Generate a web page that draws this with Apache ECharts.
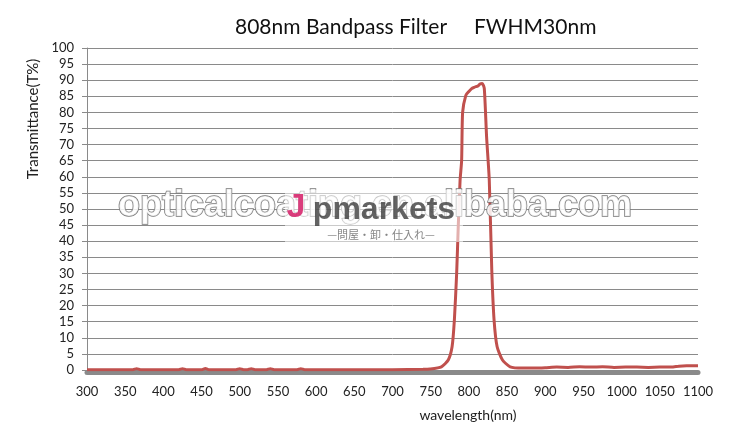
<!DOCTYPE html>
<html>
<head>
<meta charset="utf-8">
<script src="https://cdn.jsdelivr.net/npm/echarts@6/dist/echarts.min.js"></script>
<style>
html,body{margin:0;padding:0;background:#fff;}
#chart{width:750px;height:430px;}
</style>
</head>
<body>
<div id="chart"></div>
<script>
// ---- data ----
const titleText = '808nm Bandpass Filter     FWHM30nm';
const xAxisName = 'wavelength(nm)';
const yAxisName = 'Transmittance(T%)';
const xTicks = [300, 350, 400, 450, 500, 550, 600, 650, 700, 750, 800, 850, 900, 950, 1000, 1050, 1100];
const yTicks = [0, 5, 10, 15, 20, 25, 30, 35, 40, 45, 50, 55, 60, 65, 70, 75, 80, 85, 90, 95, 100];

const wavelength = [
  300, 320, 340, 360, 365, 370, 400, 420, 425, 430, 450, 455, 460, 495, 500, 505,
  510, 515, 520, 535, 540, 545, 575, 580, 585, 600, 650, 700, 740, 749,
  764, 773, 778, 781, 784, 786, 788.5, 790.5, 791.8, 796, 800, 803.6, 807, 809.3,
  812, 814.5, 817.5, 820.2, 823.2, 826.7, 830, 833, 837, 844, 854, 870,
  885, 900, 915, 930, 945, 960, 975, 990, 1005, 1020, 1035, 1050, 1065, 1075, 1085, 1100
];
const transmittance = [
  0.1, 0.1, 0.1, 0.1, 0.4, 0.1, 0.1, 0.1, 0.4, 0.1, 0.1, 0.5, 0.1, 0.1, 0.4, 0.1,
  0.1, 0.4, 0.1, 0.1, 0.4, 0.1, 0.1, 0.4, 0.1, 0.1, 0.1, 0.1, 0.2, 0.3,
  1.0, 3.1, 7.2, 15.5, 30, 44, 59, 65, 80, 85.3, 86.5, 87.4, 87.8, 88,
  88.2, 88.8, 89, 87.4, 72.4, 59, 31, 15.5, 7.2, 3.1, 1.0, 0.6,
  0.6, 0.7, 0.9, 0.8, 1.0, 0.9, 1.0, 0.8, 0.9, 0.9, 0.8, 0.9, 0.9, 1.2, 1.3, 1.3
];

// watermark texts
const wmAlibaba = 'opticalcoating.en.alibaba.com';
const wmJ = 'J';
const wmMarkets = 'pmarkets';
const wmSub = '—問屋・卸・仕入れ—';

const points = wavelength.map((w, i) => [w, transmittance[i]]);
const FONT = 'Lato, "Open Sans", sans-serif';

const chart = echarts.init(document.getElementById('chart'), null, {renderer: 'canvas'});
chart.setOption({
  backgroundColor: '#ffffff',
  animation: false,
  title: {
    text: titleText,
    left: 230,
    top: 12,
    textStyle: {fontFamily: FONT, fontSize: 21, fontWeight: 'normal', color: '#111'}
  },
  grid: {left: 87, right: 52, top: 48, bottom: 60, containLabel: false},
  xAxis: {
    type: 'value',
    min: xTicks[0],
    max: xTicks[xTicks.length - 1],
    interval: xTicks[1] - xTicks[0],
    offset: 2,
    axisLine: {show: true, onZero: false, lineStyle: {color: '#8a8a8a', width: 5}},
    axisTick: {show: false},
    splitLine: {show: false},
    axisLabel: {fontFamily: FONT, fontSize: 13, color: '#222', margin: 13,
                formatter: v => String(v)}
  },
  yAxis: {
    type: 'value',
    min: yTicks[0],
    max: yTicks[yTicks.length - 1],
    interval: yTicks[1] - yTicks[0],
    axisLine: {show: true, lineStyle: {color: '#8a8a8a', width: 1}},
    axisTick: {show: true, length: 5, lineStyle: {color: '#8a8a8a'}},
    splitLine: {show: true, lineStyle: {color: '#8a8a8a', width: 1}},
    axisLabel: {fontFamily: FONT, fontSize: 13, color: '#222', margin: 13,
                formatter: v => String(v)}
  },
  series: [{
    type: 'line',
    data: points,
    showSymbol: false,
    smooth: 0.2,
    lineStyle: {color: '#c0504d', width: 3},
    z: 3
  }],
  graphic: [
    {type: 'text', x: 33, y: 119, rotation: Math.PI / 2,
     style: {text: yAxisName, fontFamily: FONT, fontSize: 15, fill: '#222',
             textAlign: 'center', textVerticalAlign: 'middle'}},
    {type: 'text', x: 468, y: 415,
     style: {text: xAxisName, fontFamily: FONT, fontSize: 14, fill: '#222',
             textAlign: 'center', textVerticalAlign: 'middle'}},
    {type: 'text', x: 375, y: 206, z: 10,
     style: {text: wmAlibaba, fontFamily: 'Liberation Sans, Arial, sans-serif', fontSize: 36,
             fontWeight: 'bold', fill: 'rgba(255,255,255,0.85)', stroke: '#7a7a7a', lineWidth: 1.5,
             textAlign: 'center', textVerticalAlign: 'middle'}},
    {type: 'rect', shape: {x: 285, y: 190, width: 178, height: 52}, z: 11,
     style: {fill: 'rgba(255,255,255,0.55)'}},
    {type: 'text', x: 296, y: 208, z: 12,
     style: {text: wmJ, fontFamily: 'Liberation Sans, Arial, sans-serif', fontSize: 34, fontWeight: 'bold',
             fill: 'rgba(214,40,110,0.9)', textAlign: 'center', textVerticalAlign: 'middle'}},
    {type: 'text', x: 384, y: 210, z: 12,
     style: {text: wmMarkets, fontFamily: 'Liberation Sans, Arial, sans-serif', fontSize: 32, fontWeight: 'bold',
             fill: 'rgba(60,60,60,0.8)', textAlign: 'center', textVerticalAlign: 'middle'}},
    {type: 'text', x: 381, y: 235, z: 12,
     style: {text: wmSub, fontFamily: '"Noto Sans CJK JP", sans-serif', fontSize: 11,
             fill: 'rgba(120,120,120,0.9)', textAlign: 'center', textVerticalAlign: 'middle'}}
  ]
});
</script>
</body>
</html>
